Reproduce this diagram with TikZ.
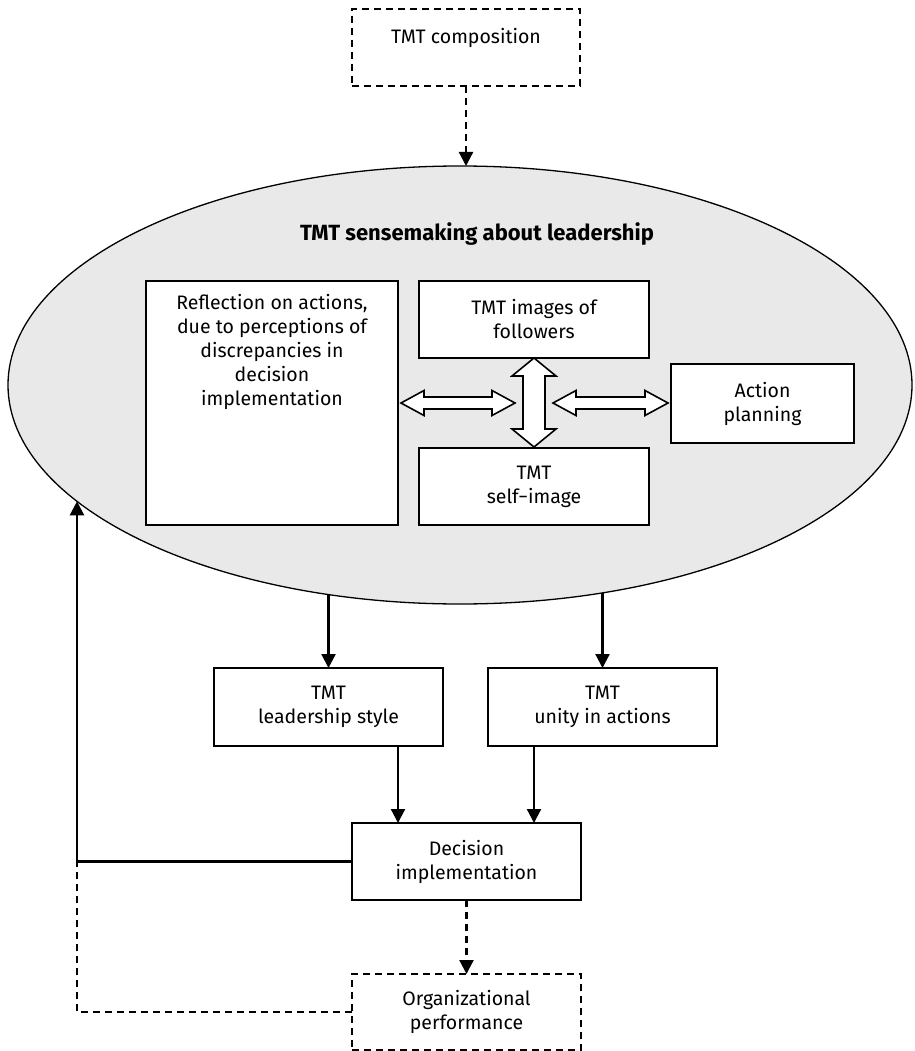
\documentclass[tikz,border=0pt]{standalone}
\usepackage{fontspec}
\setmainfont{Fira Sans}
\usetikzlibrary{arrows.meta,shapes.geometric}
\definecolor{ellgray}{HTML}{E9E9E9}
\newcommand{\hdarr}[3]{%
  \draw[dblarr] (#1,#3) -- ({#1+23},{#3-12.5}) -- ({#1+23},{#3-6}) -- ({#2-23},{#3-6}) -- ({#2-23},{#3-12.5}) -- (#2,#3)
   -- ({#2-23},{#3+12.5}) -- ({#2-23},{#3+6}) -- ({#1+23},{#3+6}) -- ({#1+23},{#3+12.5}) -- cycle;}
\newcommand{\vdarr}[3]{%
  \draw[dblarr] (#3,#1) -- ({#3-22},{#1+18}) -- ({#3-11},{#1+18}) -- ({#3-11},{#2-18}) -- ({#3-22},{#2-18}) -- (#3,#2)
   -- ({#3+22},{#2-18}) -- ({#3+11},{#2-18}) -- ({#3+11},{#1+18}) -- ({#3+22},{#1+18}) -- cycle;}
\begin{document}
\begin{tikzpicture}[x=1pt,y=-1pt,
  box/.style={draw, line width=1.6pt, fill=white, inner sep=0pt, outer sep=0pt, align=center,
     font=\fontsize{19.5}{24}\selectfont},
  dbox/.style={box, dash pattern=on 7pt off 5pt},
  txt/.style={inner sep=0pt, align=center, font=\fontsize{19.5}{24}\selectfont},
  arr/.style={line width=2.2pt, -{Triangle[length=14pt,width=14pt]}},
  darr/.style={arr, dash pattern=on 7pt off 5pt},
  dline/.style={line width=1.6pt, dash pattern=on 7pt off 5pt},
  dblarr/.style={line width=1.6pt, fill=white, line join=miter}]
\fill[white] (0,0) rectangle (914,1051);
\useasboundingbox (0,0) rectangle (914,1051);

% top
\node[dbox, minimum width=228pt, minimum height=77pt] (comp) at (466,47.5) {TMT composition\\\mbox{}};

% ellipse
\node[ellipse, draw, fill=ellgray, line width=1.3pt, minimum width=904pt, minimum height=438pt,
      inner sep=0pt, outer sep=0pt] (ell) at (460,385) {};
\node[inner sep=0pt, font=\fontsize{22}{26}\selectfont\bfseries] (title) at (477,234) {TMT sensemaking about leadership};

\node[box, anchor=north west, minimum width=252pt, minimum height=244pt] (refl) at (146,281) {};
\node[txt, anchor=north] (refltxt) at (272,294) {Reflection on actions,\\due to perceptions of\\discrepancies in\\decision\\implementation};
\node[box, minimum width=230pt, minimum height=77pt] (img) at (534,319.5) {TMT images of\\followers};
\node[box, minimum width=230pt, minimum height=77pt] (self) at (534,486.5) {TMT\\self\textminus image};
\node[box, minimum width=183pt, minimum height=79pt] (act) at (762.5,403.5) {Action\\planning};

\hdarr{401}{515}{403}
\hdarr{553}{668}{403}
\vdarr{358}{447}{534}

% lower boxes
\node[box, minimum width=229pt, minimum height=78pt] (lead) at (328.5,707) {TMT\\leadership style};
\node[box, minimum width=229pt, minimum height=78pt] (unity) at (602.5,707) {TMT\\unity in actions};
\node[box, minimum width=229pt, minimum height=77pt] (dec) at (466.5,861.5) {Decision\\implementation};
\node[dbox, minimum width=229pt, minimum height=76pt] (org) at (466.5,1012) {Organizational\\performance};

\coordinate (e1) at (328.5,594.5);
\coordinate (e2) at (602.5,592.8);
\coordinate (e3) at (77,501.3);
\coordinate (a1) at ([xshift=-68.5pt]dec.north);
\coordinate (a2) at ([xshift=67.5pt]dec.north);

\draw[darr] (comp.south) -- (comp.south |- ell.north);
\draw[arr] (e1) -- (lead.north);
\draw[arr] (e2) -- (unity.north);
\draw[arr] (lead.south -| a1) -- (a1);
\draw[arr] (unity.south -| a2) -- (a2);
\draw[darr] (dec.south) -- (org.north);
\draw[dline] (org.west) -- (org.west -| e3) -- (dec.west -| e3);
\draw[arr] (dec.west) -- (dec.west -| e3) -- (e3);
\end{tikzpicture}
\end{document}
